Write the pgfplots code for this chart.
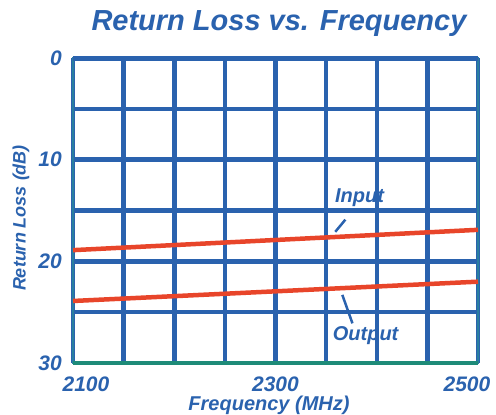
\documentclass[border=0pt]{standalone}
\usepackage{fontspec}
\setmainfont{Liberation Sans}
\usepackage{pgfplots}
\pgfplotsset{compat=1.18}
\definecolor{rblue}{HTML}{2A62AE}
\definecolor{rred}{HTML}{E8452A}
\definecolor{rgreen}{HTML}{1E8B78}
\definecolor{rteal}{HTML}{2A7FA0}
\newcommand{\bfi}[1]{\fontsize{#1}{#1}\selectfont\bfseries\itshape}
\begin{document}
\begin{tikzpicture}
\useasboundingbox (-73bp,-52bp) rectangle (423bp,363bp);
\begin{axis}[
  at={(0,0)}, anchor=south west,
  scale only axis, width=405bp, height=305bp,
  xmin=2100, xmax=2500, ymin=0, ymax=30, y dir=reverse,
  xtick={2100,2300,2500},
  xticklabels={\hspace*{26bp}2100, 2300, 2500\hspace*{22bp}},
  minor xtick={2150,2200,2250,2350,2400,2450},
  ytick={0,10,20,30}, yticklabels={0,10,20,30},
  minor ytick={5,15,25},
  grid=both,
  major grid style={rblue, line width=4.5bp},
  minor grid style={rblue, line width=4.5bp},
  major tick length=0pt, minor tick length=0pt,
  axis line style={rteal, line width=2.5bp},
  ticklabel style={font=\bfi{21bp}, text=rblue},
  xticklabel style={anchor=north, inner sep=0pt, yshift=-14bp},
  yticklabel style={anchor=east, inner sep=0pt, xshift=-11bp},
  clip=false,
]
\addplot[rred, line width=4.5bp] coordinates {(2100,18.9) (2500,16.9)};
\addplot[rred, line width=4.5bp] coordinates {(2100,23.9) (2500,22.0)};
\draw[rblue, line width=5bp] (axis cs:2100,0) -- (axis cs:2500,0);
\draw[rgreen, line width=4.5bp] (axis cs:2100,30) -- (axis cs:2500,30);
\draw[rblue, line width=2.5bp] (axis cs:2369,15.9) -- (axis cs:2359,17.1);
\draw[rblue, line width=2.5bp] (axis cs:2366,23.3) -- (axis cs:2376,26.1);
\node[font=\bfi{20bp}, text=rblue, inner sep=0pt] at (axis cs:2383,13.7) {Input};
\node[font=\bfi{20bp}, text=rblue, inner sep=0pt] at (axis cs:2389,27.3) {Output};
\end{axis}
\node[font=\bfi{29bp}, text=rblue, inner sep=0pt] at (206bp,339bp) {Return Loss vs. Frequency};
\node[font=\bfi{18bp}, text=rblue, inner sep=0pt, rotate=90] at (-52bp,145bp) {Return Loss (dB)};
\node[font=\bfi{20bp}, text=rblue, inner sep=0pt] at (196bp,-42bp) {Frequency (MHz)};
\end{tikzpicture}
\end{document}
